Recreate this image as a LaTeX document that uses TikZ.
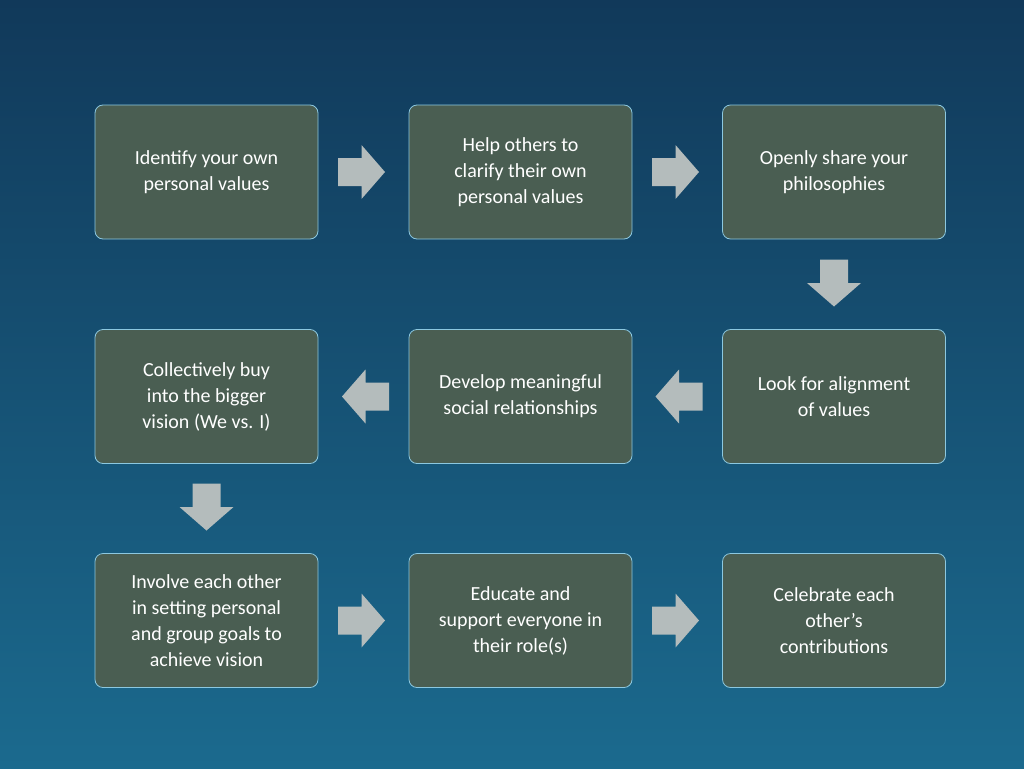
\documentclass[tikz,border=0pt]{standalone}
\usepackage{fontspec}
\setmainfont{Carlito}
\definecolor{bgtop}{HTML}{11395A}
\definecolor{bgbot}{HTML}{1B6A8E}
\definecolor{boxfill}{HTML}{4A5E52}
\definecolor{boxline}{HTML}{8CC8E0}
\definecolor{arr}{HTML}{B4BCBC}
\begin{document}
\begin{tikzpicture}[x=1pt,y=-1pt,
  stepbox/.style={draw=boxline,line width=0.8pt,fill=boxfill,rounded corners=8pt,minimum width=223pt,minimum height=134pt,text=white,align=center,font=\fontsize{20}{26}\selectfont,inner sep=0pt},
  barrow/.pic={\fill[arr] (-23.5,-14) -- (0,-14) -- (0,-27) -- (23.5,0) -- (0,27) -- (0,14) -- (-23.5,14) -- cycle;}]
\shade[top color=bgtop,bottom color=bgbot] (0,0) rectangle (1024,768);
\useasboundingbox (0,0) rectangle (1024,768);
\node[stepbox] (a) at (206.5,172) {Identify your own\\personal values};
\node[stepbox] (b) at (520.5,172) {Help others to\\clarify their own\\personal values};
\node[stepbox] (c) at (834,172) {Openly share your\\philosophies};
\node[stepbox] (d) at (834,396.5) {Look for alignment\\of values};
\node[stepbox] (e) at (520.5,396.5) {Develop meaningful\\social relationships};
\node[stepbox] (f) at (206.5,396.5) {Collectively buy\\into the bigger\\vision (We vs. I)};
\node[stepbox] (g) at (206.5,620.5) {Involve each other\\in setting personal\\and group goals to\\achieve vision};
\node[stepbox] (h) at (520.5,620.5) {Educate and\\support everyone in\\their role(s)};
\node[stepbox] (i) at (834,620.5) {Celebrate each\\other\symbol{39}s\\contributions};
\pic at (361.5,172) {barrow};
\pic at (675.5,172) {barrow};
\pic[rotate=-90] at (834,283) {barrow};
\pic[rotate=180] at (679,396.5) {barrow};
\pic[rotate=180] at (365.5,396.5) {barrow};
\pic[rotate=-90] at (206.5,507) {barrow};
\pic at (361.5,620.5) {barrow};
\pic at (675.5,620.5) {barrow};
\end{tikzpicture}
\end{document}
